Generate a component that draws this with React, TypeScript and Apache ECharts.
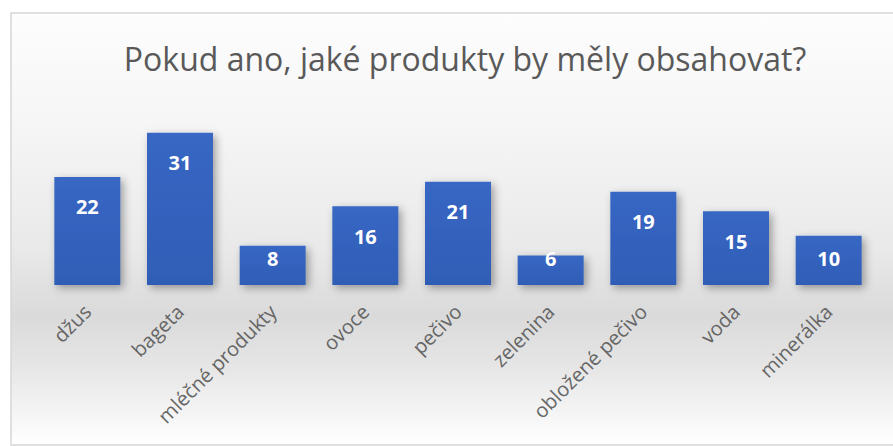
import React, { useEffect, useRef } from "react";
import * as echarts from "echarts";

const titleText = "Pokud ano, jaké produkty by měly obsahovat?";
const categories = [
  "džus",
  "bageta",
  "mléčné produkty",
  "ovoce",
  "pečivo",
  "zelenina",
  "obložené pečivo",
  "voda",
  "minerálka",
];
const values = [22, 31, 8, 16, 21, 6, 19, 15, 10];

const W = 893;
const H = 446;
const GRID_TOP = 113;
const GRID_BOTTOM = 161;
const Y_MAX = 35;

export default function App() {
  const ref = useRef<HTMLDivElement>(null);
  useEffect(() => {
    if (!ref.current) return;
    const chart = echarts.init(ref.current, null, { renderer: "svg" });
    const pxPerUnit = (H - GRID_TOP - GRID_BOTTOM) / Y_MAX;
    const font = "'Open Sans', 'Noto Sans', sans-serif";
    chart.setOption({
      animation: false,
      backgroundColor: "#ffffff",
      graphic: [
        {
          type: "rect",
          z: -10,
          silent: true,
          shape: { x: 11, y: 13, width: 900, height: 432 },
          style: {
            fill: new echarts.graphic.LinearGradient(0, 0, 0, 1, [
              { offset: 0, color: "#fdfdfd" },
              { offset: 0.25, color: "#f6f6f6" },
              { offset: 0.55, color: "#e9e9e9" },
              { offset: 0.7, color: "#dadada" },
              { offset: 0.82, color: "#e6e6e6" },
              { offset: 1, color: "#ffffff" },
            ]),
            stroke: "#d6d6d6",
            lineWidth: 1.5,
          },
        },
      ],
      title: {
        text: titleText,
        left: 460,
        textAlign: "center",
        top: 37,
        textStyle: {
          fontFamily: font,
          fontSize: 32,
          fontWeight: "normal",
          color: "#595959",
        },
      },
      grid: {
        left: 41,
        right: 18,
        top: GRID_TOP,
        bottom: GRID_BOTTOM,
        containLabel: false,
      },
      xAxis: {
        type: "category",
        data: categories,
        axisLine: { show: false },
        axisTick: { show: false },
        axisLabel: {
          rotate: 45,
          margin: 23,
          interval: 0,
          color: "#666666",
          fontFamily: font,
          fontSize: 20,
        },
      },
      yAxis: {
        type: "value",
        min: 0,
        max: Y_MAX,
        show: false,
        splitLine: { show: false },
      },
      series: [
        {
          type: "bar",
          barWidth: 66,
          data: values.map((v) => ({
            value: v,
            label: {
              position: ["50%", Math.min(30, v * pxPerUnit - 27)],
            },
          })),
          itemStyle: {
            color: new echarts.graphic.LinearGradient(0, 0, 0, 1, [
              { offset: 0, color: "#3767c3" },
              { offset: 1, color: "#2f5db6" },
            ]),
            shadowColor: "rgba(0,0,0,0.35)",
            shadowBlur: 8,
            shadowOffsetX: 3,
            shadowOffsetY: 3,
          },
          label: {
            show: true,
            align: "center",
            verticalAlign: "middle",
            color: "#ffffff",
            fontFamily: font,
            fontWeight: "bold",
            fontSize: 20,
          },
        },
      ],
    });
    return () => chart.dispose();
  }, []);
  return (
    <div
      ref={ref}
      style={{ position: "fixed", left: 0, top: 0, width: W, height: H }}
    />
  );
}
